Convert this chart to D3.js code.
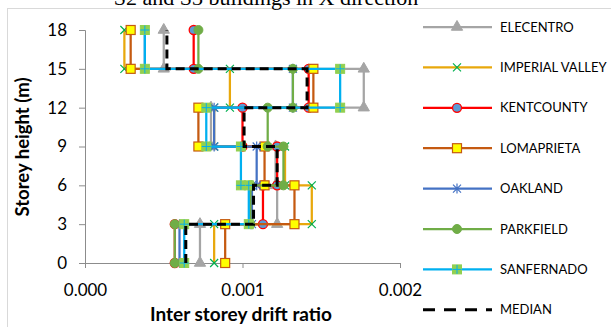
<!DOCTYPE html>
<html><head><meta charset="utf-8">
<script src="https://cdn.jsdelivr.net/npm/d3@7"></script>
<style>
html,body{margin:0;padding:0;background:#fff;overflow:hidden}
svg{display:block}
text{font-family:Lato,"Open Sans",sans-serif;fill:#000}
</style></head>
<body>
<svg id="c" width="611" height="327"></svg>
<script>
// storey levels (m) and tick labels
const storeyLevels = [0, 3, 6, 9, 12, 15, 18];
const xTicks = [0, 0.001, 0.002];
const yTicks = [0, 3, 6, 9, 12, 15, 18];
// inter storey drift per storey (0-3, 3-6, 6-9, 9-12, 12-15, 15-18)
const elecentro      = [0.00073, 0.00122, 0.00121, 0.00080, 0.00177, 0.00050];
const imperialValley = [0.00082, 0.00144, 0.00127, 0.00082, 0.00092, 0.00025];
const kentCounty     = [0.00057, 0.00113, 0.00122, 0.00100, 0.00142, 0.00069];
const lomaPrieta     = [0.00089, 0.00133, 0.00114, 0.00072, 0.00145, 0.00029];
const oakland        = [0.00060, 0.00106, 0.00109, 0.00082, 0.00132, 0.00038];
const parkfield      = [0.00057, 0.00105, 0.00126, 0.00116, 0.00132, 0.00072];
const sanFernando    = [0.00063, 0.00104, 0.00099, 0.00077, 0.00162, 0.00038];
const median         = [0.00064, 0.00107, 0.00122, 0.00101, 0.00141, 0.00052];

const seriesNames = ["ELECENTRO","IMPERIAL VALLEY","KENTCOUNTY","LOMAPRIETA","OAKLAND","PARKFIELD","SANFERNADO","MEDIAN"];
const seriesValues = [elecentro, imperialValley, kentCounty, lomaPrieta, oakland, parkfield, sanFernando, median];
const styles = [
  {color:"#A5A5A5", marker:"triangle"},
  {color:"#E8A80C", marker:"x"},
  {color:"#FF0000", marker:"circleBlue"},
  {color:"#C55A11", marker:"squareYellow"},
  {color:"#4472C4", marker:"star"},
  {color:"#70AD47", marker:"circleGreen"},
  {color:"#00B0F0", marker:"squareGreen"},
  {color:"#000000", marker:"none", dash:"9,5", width:3}
];

const svg = d3.select("#c");
// outer frame
svg.append("rect").attr("x",7.5).attr("y",8.5).attr("width",640).attr("height",400)
  .attr("fill","none").attr("stroke","#D9D9D9").attr("stroke-width",1);
// title (clipped by the top edge, as in the reference)
svg.append("text").attr("x",266).attr("y",5).attr("text-anchor","middle")
  .style("font-family","'Liberation Serif','DejaVu Serif',serif").style("font-size","22px")
  .text("S2 and S3 buildings in X direction");

const x = d3.scaleLinear().domain([0,0.002]).range([85,400]);
const y = d3.scaleLinear().domain([0,18]).range([263,30]);

const axisColor = "#8C8C8C";
const gx = svg.append("g").attr("transform","translate(0,263)")
  .call(d3.axisBottom(x).tickValues(xTicks).tickFormat(d3.format(".3f")).tickSizeOuter(0).tickSize(5).tickPadding(16));
const gy = svg.append("g").attr("transform","translate(85,0)")
  .call(d3.axisLeft(y).tickValues(yTicks).tickSizeOuter(0).tickSize(6).tickPadding(12));
[gx,gy].forEach(g=>{
  g.select(".domain").attr("stroke",axisColor);
  g.selectAll(".tick line").attr("stroke",axisColor);
  g.selectAll(".tick text").style("font-size","17px").style("font-family","Lato, sans-serif").attr("fill","#000");
});

svg.append("text").attr("x",241).attr("y",321).attr("text-anchor","middle")
  .style("font-weight","bold").style("font-size","19px").text("Inter storey drift ratio");
svg.append("text").attr("transform","translate(29,147) rotate(-90)").attr("text-anchor","middle")
  .style("font-weight","bold").style("font-size","18.5px").text("Storey height (m)");

function pts(vals){
  const p=[];
  vals.forEach((v,i)=>{ p.push([v,storeyLevels[i]]); p.push([v,storeyLevels[i+1]]); });
  return p;
}
const line = d3.line().x(d=>x(d[0])).y(d=>y(d[1]));

function drawMarker(g, type, cx, cy){
  const s = g.append("g").attr("transform",`translate(${cx},${cy})`);
  switch(type){
    case "triangle":
      s.append("path").attr("d",d3.symbol(d3.symbolTriangle,55)()).attr("fill","#A5A5A5").attr("stroke","#A5A5A5");
      break;
    case "x":
      s.append("path").attr("d","M-4,-4L4,4M-4,4L4,-4").attr("stroke","#00B050").attr("stroke-width",1.2).attr("fill","none");
      break;
    case "circleBlue":
      s.append("circle").attr("r",4.5).attr("fill","#5B9BD5").attr("stroke","#FF0000").attr("stroke-width",1.3);
      break;
    case "squareYellow":
      s.append("rect").attr("x",-4.5).attr("y",-4.5).attr("width",9).attr("height",9).attr("fill","#FFFF00").attr("stroke","#C55A11").attr("stroke-width",1.2);
      break;
    case "star":
      s.append("path").attr("d","M-4,-4L4,4M-4,4L4,-4M0,-5L0,5").attr("stroke","#4472C4").attr("stroke-width",1.2).attr("fill","none");
      break;
    case "circleGreen":
      s.append("circle").attr("r",4.5).attr("fill","#70AD47").attr("stroke","#70AD47").attr("stroke-width",1);
      break;
    case "squareGreen":
      s.append("rect").attr("x",-4.5).attr("y",-4.5).attr("width",9).attr("height",9).attr("fill","#92D050").attr("stroke","#92D050");
      s.append("path").attr("d","M-4.5,0L4.5,0M0,-4.5L0,4.5").attr("stroke","#00B0F0").attr("stroke-width",1);
      break;
  }
}

const plot = svg.append("g");
seriesValues.forEach((vals,k)=>{
  const st = styles[k];
  const g = plot.append("g");
  g.append("path").attr("d",line(pts(vals))).attr("fill","none").attr("stroke",st.color)
    .attr("stroke-width",st.width||2.25).attr("stroke-dasharray",st.dash||null);
  if(st.marker!=="none") pts(vals).forEach(p=>drawMarker(g,st.marker,x(p[0]),y(p[1])));
});

// legend
const leg = svg.append("g");
seriesNames.forEach((n,k)=>{
  const st = styles[k];
  const ly = 27 + k*40.4;
  leg.append("line").attr("x1",423).attr("x2",492).attr("y1",ly).attr("y2",ly)
    .attr("stroke",st.color).attr("stroke-width",st.width||2.25).attr("stroke-dasharray",st.dash?"12,9":null);
  if(st.marker!=="none") drawMarker(leg,st.marker,457,ly);
  leg.append("text").attr("x",500).attr("y",ly+4.5).style("font-size","13px").text(n);
});
</script>
</body></html>
